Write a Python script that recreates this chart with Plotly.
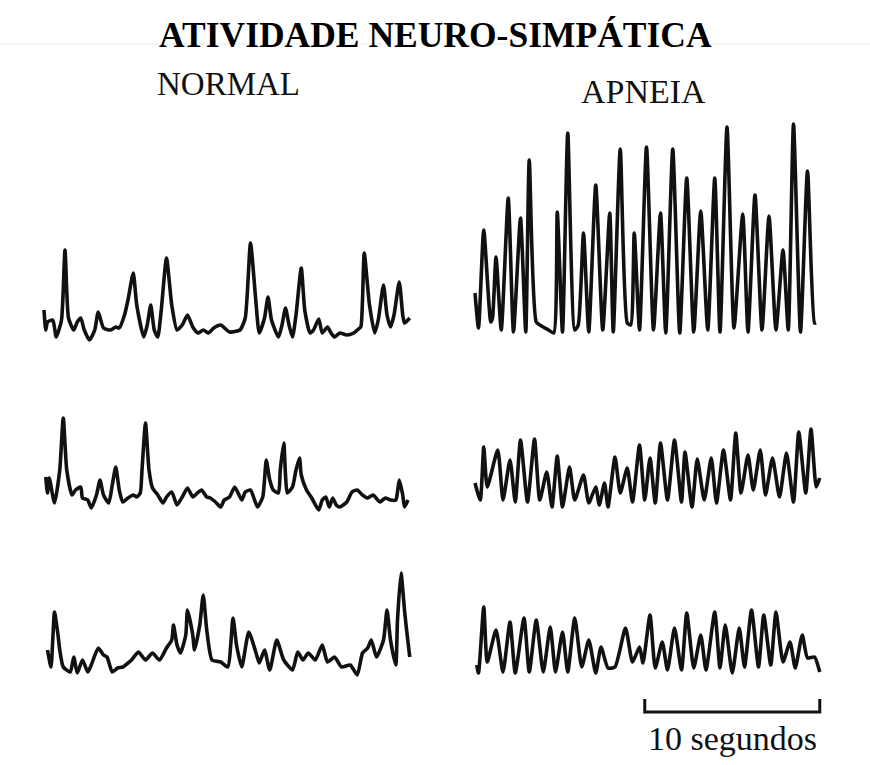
import plotly.graph_objects as go

# Sympathetic nerve activity recordings: time (s) and amplitude (a.u.)
# NORMAL column
normal_1_t = [0.0, 0.1, 0.2, 0.5, 0.7, 1.0, 1.2, 1.4, 1.7, 1.9, 2.1, 2.3, 2.6, 2.9, 3.1, 3.4, 3.8, 4.1, 4.3, 4.6,
              4.8, 5.1, 5.3, 5.7, 5.9, 6.1, 6.3, 6.5, 6.7, 7.0, 7.3, 7.6, 7.9, 8.2, 8.5, 8.8, 9.1, 9.4, 9.7, 10.1,
              10.6, 11.2, 11.5, 11.8, 12.1, 12.3, 12.6, 12.8, 13.0, 13.4, 13.6, 13.8, 14.0, 14.2, 14.4, 14.7, 14.9,
              15.2, 15.4, 15.7, 15.9, 16.2, 16.4, 16.6, 16.9, 17.3, 17.7, 17.9, 18.1, 18.2, 18.3, 18.6, 18.9, 19.1,
              19.4, 19.6, 19.8, 20.0, 20.3, 20.5, 20.6, 20.9]
normal_1_a = [30, 10, 18, 20, 3, 20, 90, 22, 10, 18, 22, 10, 0, 10, 28, 12, 10, 13, 12, 25,
              40, 67, 35, 3, 15, 35, 10, 3, 30, 82, 35, 10, 15, 25, 13, 7, 10, 7, 12, 15,
              8, 10, 22, 97, 40, 7, 22, 43, 20, 3, 15, 32, 15, 3, 25, 72, 30,
              7, 10, 21, 7, 13, 7, 3, 7, 5, 7, 10, 13, 40, 87, 35, 7, 20,
              55, 25, 13, 25, 58, 25, 17, 22]

normal_2_t = [0.1, 0.2, 0.3, 0.6, 0.9, 1.1, 1.3, 1.6, 1.8, 2.1, 2.2, 2.5, 2.7, 3.0, 3.2, 3.4, 3.7, 3.9, 4.1, 4.3,
              4.5, 4.8, 5.1, 5.3, 5.5, 5.6, 5.8, 6.0, 6.2, 6.5, 6.8, 7.0, 7.3, 7.6, 7.9, 8.2, 8.5, 8.7, 9.0, 9.3,
              9.5, 9.8, 10.1, 10.3, 10.6, 10.9, 11.3, 11.5, 11.8, 12.2, 12.5, 12.6, 12.7, 12.9, 13.1, 13.4, 13.5,
              13.7, 13.8, 13.9, 14.2, 14.4, 14.6, 14.7, 15.0, 15.3, 15.7, 15.9, 16.1, 16.3, 16.5, 16.7, 16.9, 17.3,
              17.6, 17.9, 18.2, 18.5, 18.8, 19.2, 19.5, 19.8, 20.1, 20.2, 20.3, 20.5, 20.6, 20.8]
normal_2_a = [33, 17, 32, 7, 40, 92, 40, 15, 20, 23, 12, 10, 2, 15, 30, 15, 7, 25, 43, 20,
              8, 12, 15, 13, 17, 40, 87, 40, 22, 15, 7, 13, 18, 5, 13, 22, 13, 16, 20, 13,
              12, 8, 3, 10, 13, 23, 10, 18, 20, 3, 13, 30, 50, 30, 20, 17, 40,
              67, 35, 17, 23, 40, 52, 35, 20, 12, 0, 10, 13, 3, 12, 5, 3, 8,
              18, 20, 15, 12, 15, 8, 12, 10, 10, 18, 30, 15, 3, 10]

normal_3_t = [0.2, 0.4, 0.5, 0.6, 0.8, 0.9, 1.1, 1.5, 1.7, 1.9, 2.2, 2.5, 2.7, 3.1, 3.4, 3.6, 3.9, 4.2, 4.5, 4.8,
              5.0, 5.4, 5.8, 6.2, 6.6, 7.0, 7.3, 7.4, 7.6, 7.8, 8.1, 8.2, 8.5, 8.6, 8.9, 9.1, 9.3, 9.6, 10.1, 10.5,
              10.8, 11.0, 11.3, 11.7, 12.1, 12.3, 12.6, 12.9, 13.3, 13.7, 14.2, 14.5, 14.8, 15.1, 15.5, 15.9, 16.2,
              16.6, 17.0, 17.5, 17.9, 18.2, 18.5, 18.7, 19.0, 19.4, 19.6, 19.8, 20.1, 20.2, 20.4, 20.6, 20.7, 20.9]
normal_3_a = [25, 8, 35, 63, 40, 25, 8, 3, 18, 2, 15, 3, 10, 27, 20, 18, 3, 7, 8, 12,
              15, 23, 15, 22, 15, 27, 35, 50, 30, 22, 40, 65, 40, 25, 50, 80, 45, 15, 13, 8,
              57, 30, 8, 43, 23, 12, 25, 5, 35, 15, 5, 23, 15, 22, 15, 30, 13,
              18, 8, 10, 0, 22, 27, 35, 18, 35, 65, 35, 10, 55, 102, 65, 48, 18]

# APNEIA column
apnea_1_t = [0.0, 0.2, 0.5, 0.9, 1.0, 1.2, 1.5, 1.9, 2.2, 2.6, 2.9, 3.1, 3.5, 3.8, 4.2, 4.5, 4.7, 5.0, 5.3, 5.7,
             5.9, 6.2, 6.5, 6.9, 7.3, 7.7, 7.9, 8.3, 8.7, 8.9, 9.1, 9.4, 9.8, 10.2, 10.6, 10.9, 11.3, 11.7, 12.1,
             12.5, 12.9, 13.3, 13.7, 14.0, 14.4, 14.8, 15.3, 15.6, 16.0, 16.4, 16.8, 17.2, 17.6, 17.9, 18.2, 18.6,
             19.0, 19.4, 19.5]
apnea_1_a = [40, 5, 103, 11, 15, 76, 3, 135, 1, 115, 1, 173, 11, 7, 3, 0, 121, 1, 200, 3,
             8, 100, 1, 148, 3, 120, 1, 184, 10, 8, 100, 3, 186, 3, 120, 0, 184, 0, 155,
             1, 122, 3, 155, 1, 206, 5, 119, 1, 138, 3, 117, 3, 83, 3, 209, 1,
             162, 10, 10]

apnea_2_t = [0.0, 0.3, 0.5, 0.7, 1.3, 1.6, 2.0, 2.3, 2.6, 3.0, 3.4, 3.7, 4.1, 4.4, 4.7, 5.0, 5.4, 5.7, 6.2, 6.5,
             6.9, 7.1, 7.4, 7.6, 8.0, 8.3, 8.7, 9.0, 9.4, 9.7, 10.0, 10.3, 10.6, 11.0, 11.4, 11.8, 12.0, 12.4,
             12.7, 13.1, 13.5, 13.8, 14.2, 14.6, 14.9, 15.2, 15.6, 15.9, 16.3, 16.6, 17.0, 17.4, 17.8, 18.2, 18.5,
             18.9, 19.2, 19.5, 19.7]
apnea_2_a = [24, 7, 60, 20, 57, 7, 47, 5, 67, 5, 68, 7, 35, 0, 51, 0, 40, 7, 32, 4,
             20, 2, 24, 0, 50, 14, 39, 5, 62, 7, 49, 4, 64, 7, 67, 5, 55, 0,
             48, 7, 49, 4, 57, 7, 74, 14, 52, 17, 57, 12, 49, 10, 54, 5, 75,
             14, 78, 20, 29]

apnea_3_t = [0.1, 0.2, 0.5, 0.7, 1.2, 1.6, 2.0, 2.3, 2.8, 3.1, 3.5, 3.9, 4.3, 4.6, 5.0, 5.3, 5.7, 6.1, 6.5, 6.9,
             7.2, 7.6, 8.0, 8.6, 9.0, 9.4, 9.6, 10.0, 10.3, 10.7, 11.0, 11.4, 11.8, 12.1, 12.5, 12.9, 13.2, 13.7,
             14.0, 14.3, 14.7, 15.1, 15.4, 15.8, 16.2, 16.5, 16.9, 17.2, 17.6, 18.0, 18.3, 18.7, 19.0, 19.4, 19.7]
apnea_3_a = [8, 0, 66, 11, 43, 1, 51, 0, 55, 1, 53, 1, 46, 1, 41, 1, 55, 6, 33, 0,
             26, 5, 6, 45, 11, 26, 10, 58, 5, 31, 3, 45, 3, 60, 5, 38, 3, 61,
             5, 48, 0, 45, 6, 63, 6, 58, 8, 61, 11, 31, 5, 38, 15, 16, 1]

scale_bar_seconds = 10

title_text = "ATIVIDADE NEURO-SIMPÁTICA"
column_titles = ["NORMAL", "APNEIA"]
scale_bar_label = "10 segundos"

# ---------------- layout geometry ----------------
W, H = 870, 765
PX_PER_S = 17.5          # horizontal time scale
INK = "#111111"
SERIF = "Liberation Serif, Times New Roman, serif"


def px_x(px):
    return px / W


def px_y(px):
    return 1 - px / H


def x_axis(dom_left, dom_right, origin):
    return dict(domain=[px_x(dom_left), px_x(dom_right)],
                range=[(dom_left - origin) / PX_PER_S, (dom_right - origin) / PX_PER_S],
                visible=False, fixedrange=True)


def y_axis(top, bottom, baseline, anchor):
    return dict(domain=[px_y(bottom), px_y(top)],
                range=[baseline - bottom, baseline - top],
                visible=False, fixedrange=True, anchor=anchor)


fig = go.Figure()

panels = [
    # (t, a, xaxis, yaxis)
    (normal_1_t, normal_1_a, "x", "y"),
    (normal_2_t, normal_2_a, "x", "y2"),
    (normal_3_t, normal_3_a, "x", "y3"),
    (apnea_1_t, apnea_1_a, "x2", "y4"),
    (apnea_2_t, apnea_2_a, "x2", "y5"),
    (apnea_3_t, apnea_3_a, "x2", "y6"),
]
for t, a, xa, ya in panels:
    fig.add_trace(go.Scatter(x=t, y=a, xaxis=xa, yaxis=ya, mode="lines",
                             line=dict(color=INK, width=3.6, shape="spline", smoothing=0.55),
                             hoverinfo="skip", showlegend=False))

fig.update_layout(
    width=W, height=H,
    margin=dict(l=0, r=0, t=0, b=0),
    paper_bgcolor="white", plot_bgcolor="rgba(0,0,0,0)",
    showlegend=False,
    xaxis=x_axis(30, 425, 44) | dict(anchor="y"),
    xaxis2=x_axis(460, 840, 475) | dict(anchor="y4"),
    yaxis=y_axis(220, 350, 340, "x"),
    yaxis2=y_axis(400, 520, 510, "x"),
    yaxis3=y_axis(560, 685, 675, "x"),
    yaxis4=y_axis(110, 345, 333, "x2"),
    yaxis5=y_axis(415, 520, 507, "x2"),
    yaxis6=y_axis(590, 685, 673, "x2"),
)

# Scale bar aligned with the end of the last apnea trace
bar_end = apnea_3_t[-1]
bar_start = bar_end - scale_bar_seconds
y_tick, y_bar = px_y(699), px_y(712)
fig.add_shape(type="path", xref="x2", yref="paper",
              path=f"M {bar_start},{y_tick} L {bar_start},{y_bar} L {bar_end},{y_bar} L {bar_end},{y_tick}",
              line=dict(color=INK, width=3))

# faint rule under the title
fig.add_shape(type="line", xref="paper", yref="paper", x0=0, x1=1, y0=px_y(44), y1=px_y(44),
              line=dict(color="#ececec", width=1), layer="below")

label_common = dict(showarrow=False, xanchor="center", yanchor="middle")
fig.add_annotation(text=f"<b>{title_text}</b>", xref="paper", yref="paper",
                   x=px_x(435), y=px_y(35),
                   font=dict(family=SERIF, size=35.5, color="#000"), **label_common)
fig.add_annotation(text=column_titles[0], xref="paper", yref="paper",
                   x=px_x(228), y=px_y(84),
                   font=dict(family=SERIF, size=33, color="#111"), **label_common)
fig.add_annotation(text=column_titles[1], xref="paper", yref="paper",
                   x=px_x(643), y=px_y(91),
                   font=dict(family=SERIF, size=34, color="#111"), **label_common)
fig.add_annotation(text=scale_bar_label, xref="x2", yref="paper",
                   x=(bar_start + bar_end) / 2, y=px_y(738),
                   font=dict(family=SERIF, size=34, color="#111"), **label_common)

fig.write_html("out.html")
